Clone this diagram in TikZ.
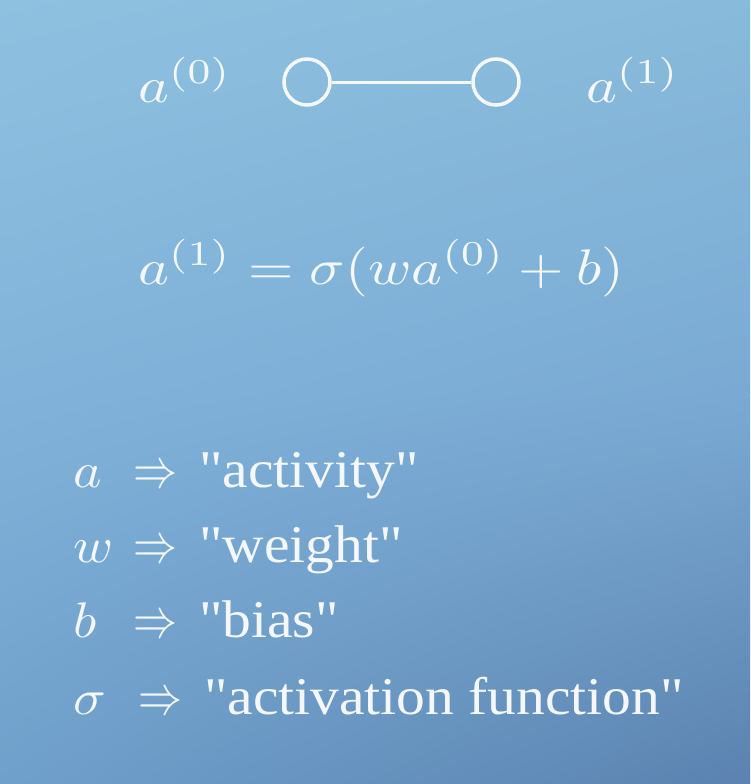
\documentclass[tikz,border=0pt]{standalone}
\usepackage{fontspec}
\setmainfont{Liberation Serif}[Ligatures=TeXOff]
\usetikzlibrary{shadings}
\definecolor{bgUL}{HTML}{8EC1E0}
\definecolor{bgUR}{HTML}{88BADB}
\definecolor{bgML}{HTML}{81B3DA}
\definecolor{bgMR}{HTML}{7AAAD3}
\definecolor{bgLL}{HTML}{6FA0CB}
\definecolor{bgLR}{HTML}{5B82B0}
\definecolor{ink}{HTML}{F4F8FB}
\begin{document}
\begin{tikzpicture}[x=1pt,y=-1pt,
  base/.style={text=ink, inner sep=0pt, anchor=base west, font=\fontsize{10}{12}\selectfont, transform shape},
  txt/.style={base, xscale=5.75, yscale=5.3},
  mth/.style={base, xscale=5.85, yscale=5},
  var/.style={base, xscale=5.4, yscale=5},
  arr/.style={base, xscale=4.4, yscale=5.6},
  neuron/.style={circle, draw=ink, line width=3.5pt, minimum size=46pt, inner sep=0pt},
  wire/.style={draw=ink, line width=3pt}]
\useasboundingbox (0,0) rectangle (750,784);
\shade[upper left=bgUL, upper right=bgUR, lower left=bgML, lower right=bgMR] (0,0) rectangle (750,392);
\shade[upper left=bgML, upper right=bgMR, lower left=bgLL, lower right=bgLR] (0,392) rectangle (750,784);
% top row
\node[mth] (a0) at (137,102) {$a^{(0)}$};
\node[mth] (a1) at (585,102) {$a^{(1)}$};
\node[neuron] (n0) at (307,82) {};
\node[neuron] (n1) at (496,82) {};
\draw[wire] (n0) -- (n1);
% equation
\node[mth] (eq) at (137,284) {$a^{(1)} = \sigma(wa^{(0)} + b)$};
% legend
\node[var] (va) at (72,487) {$a$};
\node[arr] (ra) at (133,487) {$\Rightarrow$};
\node[txt] (ta) at (198,487) {"activity"};
\node[var] (vw) at (72,562) {$w$};
\node[arr] (rw) at (133,562) {$\Rightarrow$};
\node[txt] (tw) at (198,562) {"weight"};
\node[var] (vb) at (72,637) {$b$};
\node[arr] (rb) at (133,637) {$\Rightarrow$};
\node[txt] (tb) at (198,637) {"bias"};
\node[var] (vs) at (72,714) {$\sigma$};
\node[arr] (rs) at (138,714) {$\Rightarrow$};
\node[txt] (ts) at (203,714) {"activation function"};
\end{tikzpicture}
\end{document}
